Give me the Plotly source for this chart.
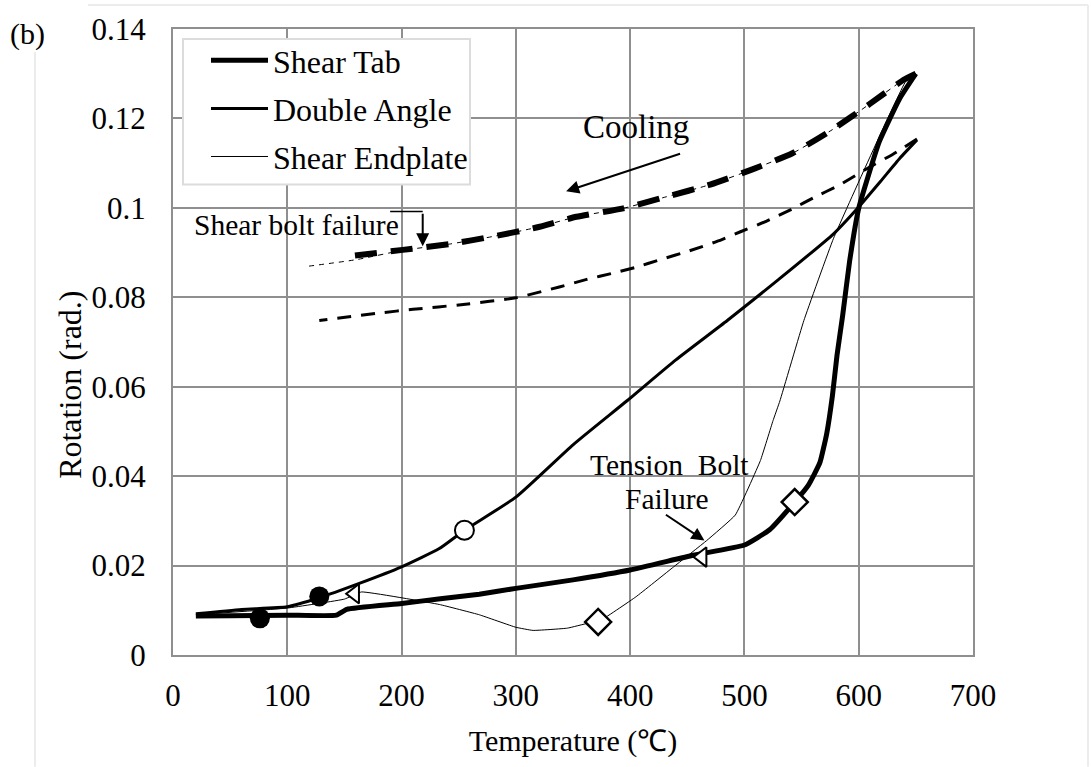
import plotly.graph_objects as go

# ---------------- data ----------------
# Shear Tab - heating (solid thick)
st_heat_t = [20, 50, 100, 143, 152, 200, 234, 268, 300, 350, 400, 455, 500, 522, 544, 556, 566, 572, 577, 581, 586, 592, 600, 618, 636, 650]
st_heat_r = [0.0087, 0.0088, 0.0089, 0.0089, 0.0102, 0.0115, 0.0126, 0.0136, 0.0149, 0.0168, 0.0190, 0.0223, 0.0246, 0.0280, 0.0342, 0.0380, 0.0430, 0.0495, 0.0580, 0.0670, 0.0760, 0.0880, 0.0999, 0.1148, 0.1245, 0.1300]
# Shear Tab - cooling (dashed thick)
st_cool_t = [650, 639, 610, 577, 542, 507, 470, 432, 394, 353, 318, 280, 242, 201, 158]
st_cool_r = [0.1300, 0.1286, 0.1233, 0.1175, 0.1122, 0.1086, 0.1052, 0.1025, 0.0999, 0.0980, 0.0956, 0.0936, 0.0919, 0.0906, 0.0893]

# Double Angle - heating (solid medium)
da_heat_t = [20, 60, 100, 128, 163, 200, 233, 255, 300, 350, 397, 440, 485, 530, 578, 600, 619, 636, 651]
da_heat_r = [0.0092, 0.0102, 0.0108, 0.0128, 0.0160, 0.0197, 0.0238, 0.0279, 0.0353, 0.0470, 0.0568, 0.0660, 0.0748, 0.0840, 0.0942, 0.1002, 0.1059, 0.1111, 0.1152]
# Double Angle - cooling (dashed medium)
da_cool_t = [651, 630, 610, 583, 560, 543, 519, 496, 476, 452, 426, 405, 385, 362, 338, 300, 254, 210, 181, 128]
da_cool_r = [0.1154, 0.1120, 0.1092, 0.1051, 0.1022, 0.0999, 0.0970, 0.0946, 0.0925, 0.0904, 0.0884, 0.0867, 0.0854, 0.0840, 0.0823, 0.0799, 0.0784, 0.0773, 0.0765, 0.0748]

# Shear Endplate - heating (solid thin)
se_heat_t = [20, 100, 150, 165, 233, 268, 300, 315, 345, 363, 372, 405, 438, 467, 492, 514, 525, 531, 552, 578, 642, 650]
se_heat_r = [0.0090, 0.0105, 0.0125, 0.0141, 0.0113, 0.0090, 0.0062, 0.0055, 0.0060, 0.0071, 0.0074, 0.0130, 0.0197, 0.0256, 0.0313, 0.0435, 0.0524, 0.0568, 0.0748, 0.0932, 0.1287, 0.1300]
# Shear Endplate - cooling (dashed thin)
se_cool_t = [650, 639, 610, 577, 542, 507, 470, 432, 394, 353, 318, 280, 242, 201, 160, 117]
se_cool_r = [0.1300, 0.1286, 0.1233, 0.1175, 0.1122, 0.1086, 0.1052, 0.1025, 0.0999, 0.0980, 0.0956, 0.0936, 0.0919, 0.0905, 0.0884, 0.0869]

# event markers
filled_circle_t = [76, 128]
filled_circle_r = [0.0082, 0.0131]
open_circle_t = [255]
open_circle_r = [0.0279]
triangle_t = [159, 463]
triangle_r = [0.0137, 0.0219]
diamond_t = [372, 544]
diamond_r = [0.0074, 0.0342]

x_ticks = [0, 100, 200, 300, 400, 500, 600, 700]
y_ticks = [0, 0.02, 0.04, 0.06, 0.08, 0.1, 0.12, 0.14]
y_tick_text = ["0", "0.02", "0.04", "0.06", "0.08", "0.1", "0.12", "0.14"]

FONT = "Liberation Serif, Times New Roman, serif"
GRID = "#8f8f8f"

# plot-area geometry (pixels)
L, R, T, B = 173, 973, 27, 655
W, H = 1091, 767
def px_x(p):
    return (p - L) / (R - L)
def px_y(p):
    return (B - p) / (B - T)

fig = go.Figure()

fig.add_trace(go.Scatter(x=st_heat_t, y=st_heat_r, mode="lines", name="Shear Tab",
                         line=dict(color="black", width=5, shape="spline", smoothing=0.4),
                         legendgroup="a"))
fig.add_trace(go.Scatter(x=da_heat_t, y=da_heat_r, mode="lines", name="Double Angle",
                         line=dict(color="black", width=3, shape="spline", smoothing=0.5),
                         legendgroup="b"))
fig.add_trace(go.Scatter(x=se_heat_t, y=se_heat_r, mode="lines", name="Shear Endplate",
                         line=dict(color="black", width=1, shape="spline", smoothing=0.3),
                         legendgroup="c"))
fig.add_trace(go.Scatter(x=da_cool_t, y=da_cool_r, mode="lines", showlegend=False,
                         line=dict(color="black", width=3, dash="14px,10px", shape="spline", smoothing=0.5)))
fig.add_trace(go.Scatter(x=se_cool_t, y=se_cool_r, mode="lines", showlegend=False,
                         line=dict(color="black", width=1, dash="5px,5px", shape="spline", smoothing=0.5)))
fig.add_trace(go.Scatter(x=st_cool_t, y=st_cool_r, mode="lines", showlegend=False,
                         line=dict(color="black", width=6, dash="22px,14px", shape="spline", smoothing=0.5)))

fig.add_trace(go.Scatter(x=filled_circle_t, y=filled_circle_r, mode="markers", showlegend=False,
                         marker=dict(symbol="circle", size=20, color="black")))
fig.add_trace(go.Scatter(x=open_circle_t, y=open_circle_r, mode="markers", showlegend=False,
                         marker=dict(symbol="circle", size=19, color="white",
                                     line=dict(color="black", width=2))))
fig.add_trace(go.Scatter(x=triangle_t, y=triangle_r, mode="markers", showlegend=False,
                         marker=dict(symbol="triangle-left", size=17, color="white",
                                     line=dict(color="black", width=2))))
fig.add_trace(go.Scatter(x=diamond_t, y=diamond_r, mode="markers", showlegend=False,
                         marker=dict(symbol="diamond", size=20, color="white",
                                     line=dict(color="black", width=2.5))))

# annotations
ann = [
    dict(x=405, y=0.1181, text="Cooling", showarrow=False,
         font=dict(family=FONT, size=33, color="black")),
    dict(x=344, y=0.1037, ax=445, ay=0.1122, axref="x", ayref="y",
         text="", showarrow=True, arrowhead=2, arrowsize=1.3, arrowwidth=2, arrowcolor="black"),
    dict(x=108, y=0.0962, text="Shear bolt failure", showarrow=False,
         font=dict(family=FONT, size=29.5, color="black")),
    dict(x=218.5, y=0.0914, ax=218.5, ay=0.0990, axref="x", ayref="y",
         text="", showarrow=True, arrowhead=2, arrowsize=1.3, arrowwidth=2, arrowcolor="black"),
    dict(x=434, y=0.0425, text="Tension  Bolt", showarrow=False,
         font=dict(family=FONT, size=29.5, color="black")),
    dict(x=432, y=0.0350, text="Failure", showarrow=False,
         font=dict(family=FONT, size=29.5, color="black")),
    dict(x=465, y=0.0256, ax=430, ay=0.0316, axref="x", ayref="y",
         text="", showarrow=True, arrowhead=2, arrowsize=1.3, arrowwidth=2, arrowcolor="black"),
    dict(x=px_x(27), y=px_y(32), xref="paper", yref="paper", xanchor="center", yanchor="middle",
         text="(b)", showarrow=False, font=dict(family=FONT, size=30, color="black")),
    # y-axis title (placed as in the original, slightly below the axis centre)
    dict(x=px_x(70), y=px_y(384), xref="paper", yref="paper", xanchor="center", yanchor="middle",
         text="Rotation (rad.)", textangle=-90, showarrow=False,
         font=dict(family=FONT, size=32, color="black")),
]

shapes = [
    dict(type="line", x0=190, x1=218.5, y0=0.0992, y1=0.0992, xref="x", yref="y",
         line=dict(color="black", width=1.5)),
    # legend frame
    dict(type="rect", xref="paper", yref="paper", x0=px_x(183), x1=px_x(470), y0=px_y(183), y1=px_y(37),
         fillcolor="white", line=dict(color="#dcdcdc", width=2), layer="above"),
]
# faint outer frame of the original figure
faint = "#ececec"
shapes += [
    dict(type="line", xref="paper", yref="paper", x0=px_x(88), x1=px_x(1088), y0=px_y(3), y1=px_y(3),
         line=dict(color=faint, width=2), layer="below"),
    dict(type="line", xref="paper", yref="paper", x0=px_x(35), x1=px_x(35), y0=px_y(50), y1=px_y(767),
         line=dict(color=faint, width=2), layer="below"),
    dict(type="line", xref="paper", yref="paper", x0=px_x(1088), x1=px_x(1088), y0=px_y(3), y1=px_y(767),
         line=dict(color=faint, width=2), layer="below"),
]

fig.update_layout(
    width=W, height=H,
    margin=dict(l=L, r=W - R, t=T, b=H - B),
    paper_bgcolor="white", plot_bgcolor="white",
    font=dict(family=FONT, size=30, color="black"),
    showlegend=True,
    legend=dict(x=px_x(206), y=px_y(31), xanchor="left", yanchor="top",
                bgcolor="rgba(0,0,0,0)", borderwidth=0,
                font=dict(family=FONT, size=32, color="black"),
                tracegroupgap=3.5, itemwidth=57),
    annotations=ann,
    shapes=shapes,
    hovermode=False,
)
fig.update_xaxes(range=[0, 700], tickvals=x_ticks, ticktext=[str(v) for v in x_ticks],
                 showgrid=True, gridcolor=GRID, gridwidth=2,
                 showline=True, linecolor=GRID, linewidth=2, mirror=True,
                 zeroline=False, ticks="", ticklabelstandoff=12,
                 tickfont=dict(family=FONT, size=31),
                 title=dict(text="Temperature (℃)", font=dict(family=FONT, size=30), standoff=18))
fig.update_yaxes(range=[0, 0.14], tickvals=y_ticks, ticktext=y_tick_text,
                 showgrid=True, gridcolor=GRID, gridwidth=2,
                 showline=True, linecolor=GRID, linewidth=2, mirror=True,
                 zeroline=False, ticks="", ticklabelstandoff=19,
                 tickfont=dict(family=FONT, size=31))

fig.write_html("out.html", config={"displayModeBar": False})
